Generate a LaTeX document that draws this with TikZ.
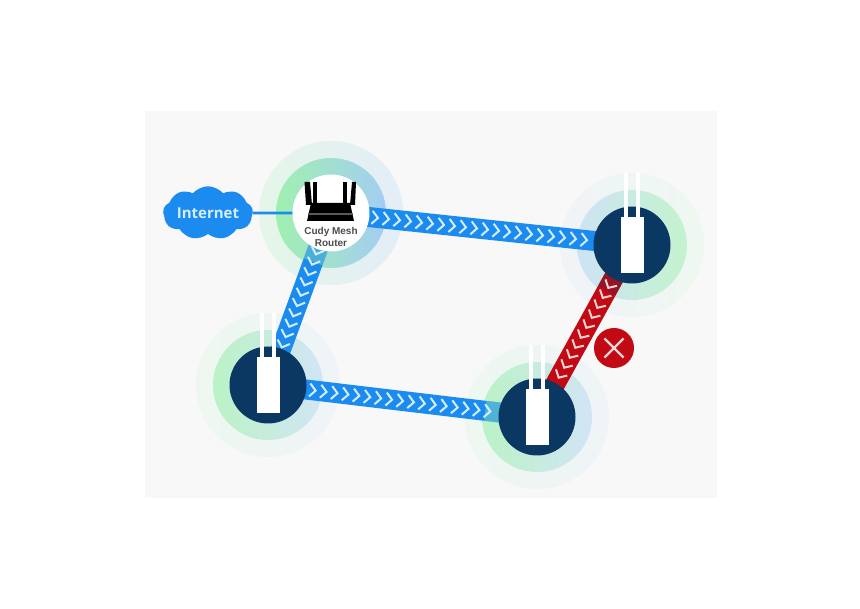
\documentclass[tikz,border=0pt]{standalone}
\usepackage{fontspec}
\setmainfont{Liberation Sans}
\newfontfamily\cloudfont{Open Sans}
\usetikzlibrary{calc,shapes.symbols,shapes.misc}
\definecolor{panelgray}{HTML}{F8F8F8}
\definecolor{linkblue}{HTML}{1C8BEF}
\definecolor{linkred}{HTML}{C20A14}
\definecolor{apnavy}{HTML}{0B3763}
\definecolor{ringgreen}{HTML}{A0F0B0}
\definecolor{ringblue}{HTML}{A4CDF3}
\definecolor{chevblue}{HTML}{D4EEFF}
\definecolor{chevred}{HTML}{F6D5D2}
\pgfdeclarelayer{panel}
\pgfdeclarelayer{rings}
\pgfdeclarelayer{links}
\pgfsetlayers{panel,rings,links,main}
\tikzset{
  disc/.style={circle,minimum size=77pt,inner sep=0pt,fill=apnavy},
  ringnode/.style={circle,minimum size=110pt,inner sep=0pt},
  halonode/.style={circle,minimum size=144pt,inner sep=0pt},
  chev/.pic={\draw[line width=2pt,#1] (-3,6.5) -- (3,0) -- (-3,-6.5);},
  band/.style={line width=20pt,linkblue},
  antenna/.style={fill=white},
}
\begin{document}
\begin{tikzpicture}[x=1pt,y=1pt]
  \useasboundingbox (0,0) rectangle (860,609);
  \begin{pgfonlayer}{panel}
    \fill[panelgray] (145,111) rectangle (717,498);
  \end{pgfonlayer}

  % rings
  \begin{pgfonlayer}{rings}
    \node[halonode,left color=ringgreen!22!panelgray,right color=ringblue!25!panelgray] (haloroute) at (331,396) {};
    \node[ringnode,left color=ringgreen,right color=ringblue] (ringroute) at (331,396) {};
    \node[halonode,left color=ringblue!10!panelgray,right color=ringgreen!10!panelgray] (haloa) at (632,364) {};
    \node[ringnode,left color=ringblue!50!panelgray,right color=ringgreen!60!panelgray] (ringa) at (632,364) {};
    \node[halonode,left color=ringgreen!12!panelgray,right color=ringblue!10!panelgray] (halob) at (268,224) {};
    \node[ringnode,left color=ringgreen!70!panelgray,right color=ringblue!45!panelgray] (ringb) at (268,224) {};
    \node[halonode,left color=ringgreen!12!panelgray,right color=ringblue!10!panelgray] (haloc) at (537,192) {};
    \node[ringnode,left color=ringgreen!70!panelgray,right color=ringblue!45!panelgray] (ringc) at (537,192) {};
  \end{pgfonlayer}
  \node[circle,minimum size=77pt,inner sep=0pt,fill=white] (router) at (331,396) {};
  \node[disc] (apa) at (632,364) {};
  \node[disc] (apb) at (268,224) {};
  \node[disc] (apc) at (537,192) {};

  % links
  \begin{pgfonlayer}{links}
    \draw[band] (router.center) -- (apa.center);
    \draw[band] (router.center) -- (apb.center);
    \draw[band] (apb.center) -- (apc.center);
    \draw[band,linkred] (apa.center) -- (apc.center);
    \draw[band,ringgreen,opacity=.35] (router.center) -- ($(router.center)!52pt!(apb.center)$);
    \draw[band,ringgreen,opacity=.4] (apc.center) -- ($(apc.center)!52pt!(apb.center)$);
    \draw[band,apnavy,opacity=.25] (apa.center) -- ($(apa.center)!52pt!(apc.center)$);
  \end{pgfonlayer}
  \foreach \k [evaluate=\k as \t using (44+11*\k)/301] in {0,...,19}
    \path (router.center) -- pic[pos=\t,sloped,allow upside down] {chev=chevblue} (apa.center);
  \foreach \k [evaluate=\k as \t using (41+11*\k)/183] in {0,...,9}
    \path (router.center) -- pic[pos=\t,sloped,allow upside down] {chev=chevblue} (apb.center);
  \foreach \k [evaluate=\k as \t using (45+11*\k)/271] in {0,...,16}
    \path (apb.center) -- pic[pos=\t,sloped,allow upside down] {chev=chevblue} (apc.center);
  \foreach \k [evaluate=\k as \t using (46+11.4*\k)/196.5] in {0,...,9}
    \path (apa.center) -- pic[pos=\t,sloped,allow upside down] {chev=chevred} (apc.center);

  % access points
  \foreach \name in {apa,apb,apc} {
    \fill[antenna] ([shift={(-8,27)}]\name.center) rectangle ([shift={(-4,72)}]\name.center);
    \fill[antenna] ([shift={(4,27)}]\name.center) rectangle ([shift={(8,72)}]\name.center);
    \fill[white] ([shift={(-11.5,-28)}]\name.center) rectangle ([shift={(11.5,28)}]\name.center);
  }

  % router icon
  \fill[black] (306,404) -- (304.5,427) -- (310,427) -- (312,404) -- cycle;
  \fill[black] (313,404) -- (313,427) -- (317,427) -- (317,404) -- cycle;
  \fill[black] (343,404) -- (343,427) -- (347,427) -- (347,404) -- cycle;
  \fill[black] (350,404) -- (352,427) -- (356,427) -- (355,404) -- cycle;
  \fill[black] (311,406) -- (350,406) -- (354,388) -- (307,388) -- cycle;
  \fill[black!65] (308,394) rectangle (353,395.5);
  \node[font=\bfseries\fontsize{10}{11.5}\selectfont,text=black!70,align=center,inner sep=0pt] (routerlabel) at (331,372) {Cudy Mesh\\Router};

  % internet
  \node[cloud,cloud puffs=9,cloud puff arc=100,aspect=2.1,fill=linkblue,inner sep=0pt,minimum width=90pt,minimum height=45pt,
    text=chevblue,font=\cloudfont\bfseries\fontsize{15}{16}\selectfont] (internet) at (208,396) {Internet};
  \draw[line width=2.6pt,linkblue] (internet.east) -- (router.west);

  % fault
  \node[circle,fill=linkred,minimum size=40pt,inner sep=0pt] (fault) at (614,261) {};
  \node[cross out,draw=chevred,line width=2.2pt,minimum size=17pt,inner sep=0pt] (faultx) at (fault.center) {};
\end{tikzpicture}
\end{document}
